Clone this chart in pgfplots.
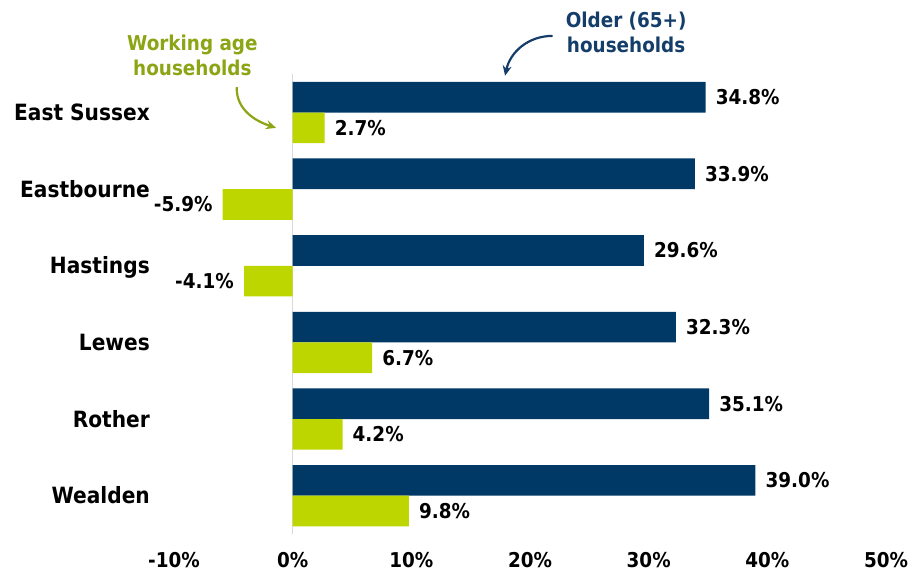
\documentclass[border=0pt]{standalone}
\usepackage{fontspec}
\setmainfont{DejaVu Sans Condensed}
\usepackage{pgfplots}
\pgfplotsset{compat=1.18}
\usetikzlibrary{arrows.meta}
\definecolor{navy}{RGB}{0,57,102}
\definecolor{lime}{RGB}{190,214,0}
\definecolor{olivetext}{RGB}{140,165,20}
\definecolor{navytext}{RGB}{20,62,105}
\begin{document}
\begin{tikzpicture}
\useasboundingbox (-174bp,-41bp) rectangle (737bp,534bp);
\begin{axis}[
  at={(0,0)}, anchor=south west,
  scale only axis, width=712bp, height=459.8bp,
  xmin=-10, xmax=50, ymin=-0.5, ymax=5.5,
  xbar, bar width=0.4,
  clip=false,
  axis line style={draw=none},
  major tick length=0pt,
  /pgf/number format/assume math mode=true,
  xtick={-10,0,10,20,30,40,50},
  xticklabel={\pgfmathprintnumber{\tick}\%},
  xticklabel style={font=\fontsize{20.5}{24}\selectfont\bfseries, anchor=center, yshift=-26bp},
  ytick={0,1,2,3,4,5},
  yticklabels={Wealden,Rother,Lewes,Hastings,Eastbourne,East Sussex},
  yticklabel style={font=\fontsize{22.5}{26}\selectfont\bfseries, anchor=base east, inner sep=0pt, xshift=-24bp, yshift=-8bp},
  extra x ticks={0}, extra x tick labels={},
  extra x tick style={grid=major, major grid style={draw=black!15, line width=1.5bp}},
  point meta=x,
  nodes near coords={\pgfmathprintnumber[fixed,fixed zerofill,precision=1]{\pgfplotspointmeta}\%},
  nodes near coords align={horizontal},
  every node near coord/.append style={font=\fontsize{20.5}{24}\selectfont\bfseries, text=black, inner xsep=10bp, inner ysep=0pt},
]
\addplot[fill=navy, draw=none, bar shift=0.2] coordinates {
  (34.8,5) (33.9,4) (29.6,3) (32.3,2) (35.1,1) (39.0,0)};
\addplot[fill=lime, draw=none, bar shift=-0.2] coordinates {
  (2.7,5) (-5.9,4) (-4.1,3) (6.7,2) (4.2,1) (9.8,0)};
\node[font=\fontsize{20.5}{25}\selectfont\bfseries, text=olivetext, align=center] at (axis cs:-8.45,5.75) {Working age\\households};
\draw[-{Stealth[length=10bp,width=9bp]}, line width=2.2bp, olivetext] (axis cs:-4.71,5.33) to[out=-92,in=162] (axis cs:-1.4,4.8);
\node[font=\fontsize{20.5}{25}\selectfont\bfseries, text=navytext, align=center] at (axis cs:28.1,6.05) {Older (65+)\\households};
\draw[-{Stealth[length=10bp,width=9bp]}, line width=2.2bp, navytext] (axis cs:21.9,6.0) to[out=180,in=78] (axis cs:17.9,5.48);
\end{axis}
\end{tikzpicture}
\end{document}
